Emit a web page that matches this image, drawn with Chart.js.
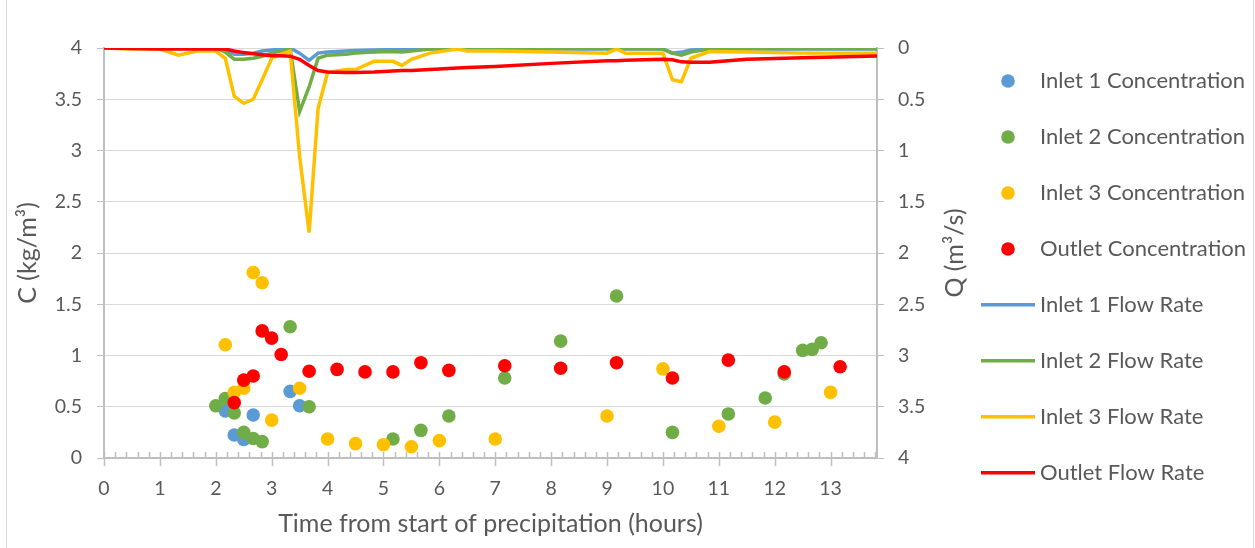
<!DOCTYPE html>
<html>
<head>
<meta charset="utf-8">
<script src="https://cdn.jsdelivr.net/npm/chart.js@4.4.0/dist/chart.umd.min.js"></script>
<style>
  html, body { margin: 0; padding: 0; background: #fff; }
  #wrap { position: relative; width: 1255px; height: 548px; overflow: hidden; }
  #frame { position: absolute; left: 6px; top: -2px; width: 1246px; height: 560px; border: 1px solid #d9d9d9; }
  #chart { position: absolute; left: 0; top: 0; }
</style>
</head>
<body>
<div id="wrap">
  <div id="frame"></div>
  <canvas id="chart" width="1255" height="548"></canvas>
</div>
<script>
// concentrations (left axis, kg/m3), sample times in hours
const inlet1ConcTime = [2.17, 2.33, 2.5, 2.67, 3.33, 3.5];
const inlet1Conc = [0.46, 0.225, 0.18, 0.42, 0.65, 0.51];

const inlet2ConcTime = [2.0, 2.17, 2.33, 2.5, 2.67, 2.83, 3.33, 3.67, 5.17, 5.67, 6.17, 7.17, 8.17, 9.17, 10.17, 11.17, 11.83, 12.17, 12.5, 12.67, 12.83];
const inlet2Conc = [0.51, 0.58, 0.44, 0.25, 0.19, 0.16, 1.28, 0.50, 0.185, 0.27, 0.41, 0.78, 1.14, 1.58, 0.25, 0.43, 0.585, 0.82, 1.05, 1.06, 1.125];

const inlet3ConcTime = [2.17, 2.33, 2.5, 2.67, 2.83, 3.0, 3.5, 4.0, 4.5, 5.0, 5.5, 6.0, 7.0, 9.0, 10.0, 11.0, 12.0, 13.0];
const inlet3Conc = [1.105, 0.64, 0.68, 1.81, 1.71, 0.37, 0.68, 0.185, 0.14, 0.13, 0.11, 0.17, 0.185, 0.41, 0.87, 0.31, 0.35, 0.64];

const outletConcTime = [2.33, 2.5, 2.67, 2.83, 3.0, 3.17, 3.67, 4.17, 4.67, 5.17, 5.67, 6.17, 7.17, 8.17, 9.17, 10.17, 11.17, 12.17, 13.17];
const outletConc = [0.54, 0.76, 0.80, 1.24, 1.17, 1.01, 0.846, 0.865, 0.84, 0.84, 0.93, 0.855, 0.90, 0.875, 0.93, 0.78, 0.955, 0.84, 0.89];

// flow rates (right axis, m3/s, reversed)
const flowTime = [0, 0.5, 1, 1.33, 1.67, 2, 2.17, 2.33, 2.5, 2.67, 2.83, 3, 3.17, 3.33, 3.5, 3.67, 3.83, 4, 4.33, 4.5,
                  4.83, 5.17, 5.33, 5.5, 5.83, 6.33, 6.5, 7, 8, 9, 9.17, 9.33, 10, 10.17, 10.33, 10.5, 10.83, 11.5, 12.5, 13.83];
const inlet1Flow = [0, 0, 0, 0, 0, 0, 0.02, 0.06, 0.06, 0.05, 0.03, 0.02, 0.01, 0, 0.05, 0.12, 0.05, 0.04, 0.03, 0.025,
                    0.02, 0.015, 0.015, 0.01, 0.01, 0.01, 0.01, 0.01, 0.01, 0.01, 0.01, 0.01, 0.01, 0.05, 0.04, 0.02, 0.01, 0.01, 0.01, 0.01];
const inlet2Flow = [0, 0, 0, 0, 0, 0, 0.04, 0.11, 0.11, 0.10, 0.08, 0.05, 0.03, 0.01, 0.62, 0.38, 0.10, 0.07, 0.06, 0.05,
                    0.04, 0.035, 0.04, 0.03, 0.01, 0.005, 0.005, 0.005, 0.005, 0.005, 0.005, 0.005, 0.01, 0.05, 0.07, 0.04, 0.01, 0.005, 0.005, 0.005];
const inlet3Flow = [0, 0.01, 0.01, 0.07, 0.03, 0.03, 0.10, 0.47, 0.54, 0.50, 0.31, 0.10, 0.06, 0.03, 1.06, 1.80, 0.59, 0.24, 0.21, 0.21,
                    0.13, 0.13, 0.17, 0.11, 0.05, 0.01, 0.03, 0.03, 0.04, 0.05, 0.01, 0.05, 0.05, 0.31, 0.33, 0.10, 0.035, 0.04, 0.05, 0.05];
const outletFlow = [0, 0.005, 0.01, 0.01, 0.01, 0.01, 0.01, 0.03, 0.045, 0.055, 0.065, 0.075, 0.075, 0.08, 0.11, 0.17, 0.22, 0.235, 0.24, 0.24,
                    0.235, 0.225, 0.22, 0.22, 0.21, 0.195, 0.19, 0.18, 0.15, 0.125, 0.125, 0.12, 0.11, 0.115, 0.135, 0.14, 0.14, 0.11, 0.095, 0.078];

const xTicks = [0, 1, 2, 3, 4, 5, 6, 7, 8, 9, 10, 11, 12, 13];
const xMax = 13.83;
const yTicks = [0, 0.5, 1, 1.5, 2, 2.5, 3, 3.5, 4];

const BLUE = '#5b9bd5';
const GREEN = '#70ad47';
const YELLOW = '#ffc000';
const RED = '#ff0000';
const TEXT = '#595959';
const AXIS = '#bfbfbf';
const FONT = 'Lato';

const pts = (xs, ys) => xs.map((x, i) => ({ x: x, y: ys[i] }));

function dotIcon(color) {
    const c = document.createElement('canvas');
    c.width = 14; c.height = 14;
    const g = c.getContext('2d');
    g.fillStyle = color;
    g.beginPath();
    g.arc(7, 7, 6.8, 0, Math.PI * 2);
    g.fill();
    return c;
}

function lineIcon(color) {
    const c = document.createElement('canvas');
    c.width = 54; c.height = 4;
    const g = c.getContext('2d');
    g.fillStyle = color;
    g.fillRect(0, 0, 54, 3.5);
    return c;
}

const legendIcons = [dotIcon(BLUE), dotIcon(GREEN), dotIcon(YELLOW), dotIcon(RED),
                     lineIcon(BLUE), lineIcon(GREEN), lineIcon(YELLOW), lineIcon(RED)];

function concSet(label, xs, ys, color, order) {
    return { label, data: pts(xs, ys), yAxisID: 'y', showLine: false,
             backgroundColor: color, borderColor: color, borderWidth: 0, pointRadius: 6.8, order };
}

function flowSet(label, ys, color, order) {
    return { label, data: pts(flowTime, ys), yAxisID: 'y2', showLine: true,
             borderColor: color, backgroundColor: color, borderWidth: 3.5, pointRadius: 0, tension: 0, order };
}

const tickText = (v) => String(v);

// minor and major x tick marks, Excel style
const xTickMarks = {
    id: 'xTickMarks',
    afterDatasetsDraw(chart) {
        const x = chart.scales.x;
        const base = chart.chartArea.bottom;
        const ctx = chart.ctx;
        ctx.save();
        ctx.strokeStyle = AXIS;
        ctx.lineWidth = 1.5;
        ctx.beginPath();
        for (let i = 0; i < xTicks.length; i++) {
            const px = Math.round(x.getPixelForValue(xTicks[i])) + 0.5;
            ctx.moveTo(px, base - 6);
            ctx.lineTo(px, base + 8);
            for (let k = 1; k < 5; k++) {
                const v = xTicks[i] + k * 0.2;
                if (v > xMax) break;
                const mx = Math.round(x.getPixelForValue(v)) + 0.5;
                ctx.moveTo(mx, base - 6);
                ctx.lineTo(mx, base);
            }
        }
        ctx.stroke();
        ctx.restore();
    }
};

// right axis title reads bottom to top, like the left one
const rightTitle = {
    id: 'rightTitle',
    afterDraw(chart) {
        const s = chart.scales.y2;
        const ctx = chart.ctx;
        ctx.save();
        ctx.translate(s.right + 2, (chart.chartArea.top + chart.chartArea.bottom) / 2);
        ctx.rotate(-Math.PI / 2);
        ctx.fillStyle = TEXT;
        ctx.font = '25px ' + FONT;
        ctx.textAlign = 'center';
        ctx.textBaseline = 'middle';
        ctx.fillText('Q (m³/s)', 0, 0);
        ctx.restore();
    }
};

new Chart(document.getElementById('chart'), {
    type: 'scatter',
    data: {
        datasets: [
            concSet('Inlet 1 Concentration', inlet1ConcTime, inlet1Conc, BLUE, 7),
            concSet('Inlet 2 Concentration', inlet2ConcTime, inlet2Conc, GREEN, 6),
            concSet('Inlet 3 Concentration', inlet3ConcTime, inlet3Conc, YELLOW, 5),
            concSet('Outlet Concentration', outletConcTime, outletConc, RED, 4),
            flowSet('Inlet 1 Flow Rate', inlet1Flow, BLUE, 3),
            flowSet('Inlet 2 Flow Rate', inlet2Flow, GREEN, 2),
            flowSet('Inlet 3 Flow Rate', inlet3Flow, YELLOW, 1),
            flowSet('Outlet Flow Rate', outletFlow, RED, 0)
        ]
    },
    options: {
        responsive: false,
        animation: false,
        events: [],
        layout: { padding: { top: 36, right: 0, bottom: 8, left: 10 } },
        plugins: {
            tooltip: { enabled: false },
            legend: {
                position: 'right',
                align: 'start',
                maxWidth: 302,
                labels: {
                    usePointStyle: true,
                    pointStyleWidth: 42,
                    boxHeight: 22,
                    padding: 34,
                    color: TEXT,
                    font: { family: FONT, size: 22 },
                    generateLabels: (chart) => Chart.defaults.plugins.legend.labels.generateLabels(chart)
                        .map(item => Object.assign(item, { pointStyle: legendIcons[item.datasetIndex] })),
                    sort: (a, b) => a.datasetIndex - b.datasetIndex
                }
            }
        },
        scales: {
            x: {
                type: 'linear',
                position: 'bottom',
                min: 0,
                max: xMax,
                afterBuildTicks: (s) => { s.ticks = xTicks.map(v => ({ value: v })); },
                afterFit: (s) => { s.height = 82; },
                grid: { display: true, drawOnChartArea: false, drawTicks: false },
                border: { display: true, color: AXIS, width: 2 },
                ticks: { color: TEXT, font: { family: FONT, size: 19.5 }, padding: 19, maxRotation: 0, autoSkip: false, callback: tickText },
                title: {
                    display: true,
                    text: 'Time from start of precipitation (hours)',
                    color: TEXT,
                    font: { family: FONT, size: 25 },
                    padding: { top: 0, bottom: 1 }
                }
            },
            top: {
                type: 'linear',
                position: 'top',
                min: 0,
                max: 1,
                grid: { display: false },
                border: { display: false },
                ticks: { display: false },
                afterFit: (s) => { s.height = 12; }
            },
            y: {
                position: 'left',
                min: 0,
                max: 4,
                afterBuildTicks: (s) => { s.ticks = yTicks.map(v => ({ value: v })); },
                afterFit: (s) => { s.width = 94; },
                grid: { color: '#d9d9d9', lineWidth: 1, tickLength: 7, tickColor: AXIS },
                border: { display: true, color: AXIS, width: 2 },
                ticks: { color: TEXT, font: { family: FONT, size: 19.5 }, padding: 15, callback: tickText },
                title: {
                    display: true,
                    text: 'C (kg/m³)',
                    color: TEXT,
                    font: { family: FONT, size: 25 },
                    padding: { top: 3, bottom: 0 }
                }
            },
            y2: {
                position: 'right',
                reverse: true,
                min: 0,
                max: 4,
                afterBuildTicks: (s) => { s.ticks = yTicks.map(v => ({ value: v })); },
                afterFit: (s) => { s.width = 76; },
                grid: { drawOnChartArea: false, tickLength: 7, tickColor: AXIS },
                border: { display: true, color: AXIS, width: 2 },
                ticks: { color: TEXT, font: { family: FONT, size: 19.5 }, padding: 14, callback: tickText }
            }
        }
    },
    plugins: [xTickMarks, rightTitle]
});
</script>
</body>
</html>
